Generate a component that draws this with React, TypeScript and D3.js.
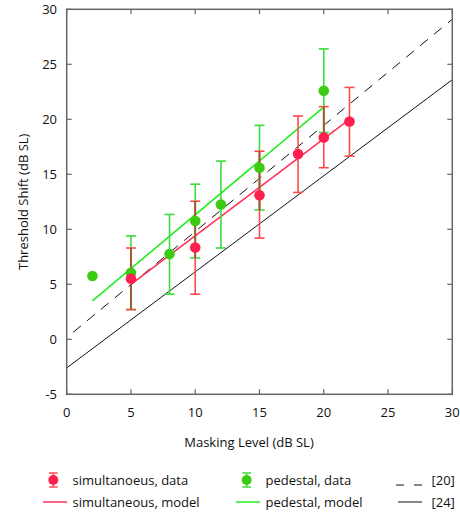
import React from "react";
import * as d3 from "d3";

const simX = [5, 10, 15, 18, 20, 22];
const simY = [5.5, 8.35, 13.1, 16.85, 18.35, 19.8];
const simHi = [8.3, 12.55, 17.1, 20.3, 21.15, 22.9];
const simLo = [2.7, 4.1, 9.2, 13.35, 15.6, 16.65];

const pedX = [2, 5, 8, 10, 12, 15, 20];
const pedY = [5.75, 6.05, 7.75, 10.75, 12.25, 15.6, 22.6];
const pedHi = [null, 9.4, 11.35, 14.1, 16.2, 19.45, 26.4];
const pedLo = [null, 2.7, 4.1, 7.4, 8.3, 11.75, 18.8];

const simModelX = [5, 22];
const simModelY = [5.0, 20.0];
const pedModelX = [2, 20];
const pedModelY = [3.5, 21.1];
const ref20X = [0.5, 30];
const ref20Y = [0.64, 29.1];
const ref24X = [0, 30];
const ref24Y = [-2.6, 23.6];

const xTicks = [0, 5, 10, 15, 20, 25, 30];
const yTicks = [-5, 0, 5, 10, 15, 20, 25, 30];

const RED = "#ff1f4f";
const RED_BAR = "#ff4a4a";
const RED_LINE = "#ff3358";
const GREEN = "#3acb12";
const GREEN_BAR = "#3ddc3d";
const GREEN_LINE = "#22ee22";
const BROWN = "#9c5a2a";

export default function App() {
  const W = 460, H = 515;
  const x = d3.scaleLinear().domain([0, 30]).range([66.7, 452.3]);
  const y = d3.scaleLinear().domain([-5, 30]).range([394.3, 9.3]);
  const font = "'Open Sans', sans-serif";
  const line = d3.line<[number, number]>().x(d => x(d[0])).y(d => y(d[1]));
  const pts = (xs: number[], ys: number[]) => xs.map((v, i) => [v, ys[i]] as [number, number]);
  const cap = 5;
  const r = 5.3;

  const bar = (xv: number, lo: number, hi: number, color: string, key: string) => (
    <g key={key} stroke={color} strokeWidth={1.6}>
      <line x1={x(xv)} x2={x(xv)} y1={y(lo)} y2={y(hi)} />
      <line x1={x(xv) - cap} x2={x(xv) + cap} y1={y(lo)} y2={y(lo)} />
      <line x1={x(xv) - cap} x2={x(xv) + cap} y1={y(hi)} y2={y(hi)} />
    </g>
  );

  // overlaps of error bars at equal x
  const overlaps: { xv: number; lo: number; hi: number }[] = [];
  simX.forEach((sx, i) => {
    const j = pedX.indexOf(sx);
    if (j >= 0 && pedHi[j] != null) {
      const lo = Math.max(simLo[i], pedLo[j] as number);
      const hi = Math.min(simHi[i], pedHi[j] as number);
      if (hi > lo) overlaps.push({ xv: sx, lo, hi });
    }
  });

  const frameColor = "#666";
  const tickLen = 5;

  return (
    <svg width={W} height={H} style={{ position: "absolute", left: 0, top: 0 }} fontFamily={font}>
      <rect width={W} height={H} fill="white" />
      {/* reference lines */}
      <path d={line(pts(ref20X, ref20Y)) || ""} stroke="#111" strokeWidth={1} fill="none" strokeDasharray="10,8" />
      <path d={line(pts(ref24X, ref24Y)) || ""} stroke="#111" strokeWidth={1} fill="none" />
      {/* model lines */}
      <path d={line(pts(pedModelX, pedModelY)) || ""} stroke={GREEN_LINE} strokeWidth={1.6} fill="none" />
      <path d={line(pts(simModelX, simModelY)) || ""} stroke={RED_LINE} strokeWidth={1.6} fill="none" />
      {/* error bars */}
      {pedX.map((xv, i) => pedHi[i] != null ? bar(xv, pedLo[i] as number, pedHi[i] as number, GREEN_BAR, "pb" + i) : null)}
      {simX.map((xv, i) => bar(xv, simLo[i], simHi[i], RED_BAR, "sb" + i))}
      {overlaps.map((o, i) => (
        <line key={"ov" + i} x1={x(o.xv)} x2={x(o.xv)} y1={y(o.lo)} y2={y(o.hi)} stroke={BROWN} strokeWidth={1.8} />
      ))}
      {/* markers */}
      {pedX.map((xv, i) => <circle key={"pm" + i} cx={x(xv)} cy={y(pedY[i])} r={r} fill={GREEN} />)}
      {simX.map((xv, i) => <circle key={"sm" + i} cx={x(xv)} cy={y(simY[i])} r={r} fill={RED} />)}
      {/* frame */}
      <rect x={x(0)} y={y(30)} width={x(30) - x(0)} height={y(-5) - y(30)} fill="none" stroke={frameColor} strokeWidth={1.5} />
      {xTicks.map(t => (
        <g key={"xt" + t}>
          <line x1={x(t)} x2={x(t)} y1={y(-5)} y2={y(-5) - tickLen} stroke={frameColor} strokeWidth={1.2} />
          <line x1={x(t)} x2={x(t)} y1={y(30)} y2={y(30) + tickLen} stroke={frameColor} strokeWidth={1.2} />
          <text x={x(t)} y={y(-5) + 23} textAnchor="middle" fontSize={13} fill="#111">{t}</text>
        </g>
      ))}
      {yTicks.map(t => (
        <g key={"yt" + t}>
          <line x1={x(0)} x2={x(0) + tickLen} y1={y(t)} y2={y(t)} stroke={frameColor} strokeWidth={1.2} />
          <line x1={x(30)} x2={x(30) - tickLen} y1={y(t)} y2={y(t)} stroke={frameColor} strokeWidth={1.2} />
          <text x={57} y={y(t)} dy="0.35em" textAnchor="end" fontSize={13} fill="#111">{t}</text>
        </g>
      ))}
      <text x={249} y={447} textAnchor="middle" fontSize={13} fill="#111">Masking Level (dB SL)</text>
      <text transform={`translate(28,${(y(30) + y(-5)) / 2}) rotate(-90)`} textAnchor="middle" fontSize={13} fill="#111">Threshold Shift (dB SL)</text>
      {/* legend */}
      <g fontSize={13} fill="#111">
        <g stroke={RED_BAR} strokeWidth={1.5}>
          <line x1={53.3} x2={53.3} y1={473} y2={487} />
          <line x1={49} x2={57.6} y1={473} y2={473} />
          <line x1={49} x2={57.6} y1={487} y2={487} />
        </g>
        <circle cx={53.3} cy={480} r={5} fill={RED} />
        <text x={72.5} y={480} dy="0.35em">simultanoeus, data</text>
        <line x1={43} x2={67} y1={502} y2={502} stroke={RED_LINE} strokeWidth={1.5} />
        <text x={72.5} y={502} dy="0.35em">simultaneous, model</text>

        <g stroke={GREEN_BAR} strokeWidth={1.5}>
          <line x1={246.7} x2={246.7} y1={473} y2={487} />
          <line x1={242.4} x2={251} y1={473} y2={473} />
          <line x1={242.4} x2={251} y1={487} y2={487} />
        </g>
        <circle cx={246.7} cy={480} r={5} fill={GREEN} />
        <text x={265.5} y={480} dy="0.35em">pedestal, data</text>
        <line x1={236} x2={260} y1={502} y2={502} stroke={GREEN_LINE} strokeWidth={1.5} />
        <text x={265.5} y={502} dy="0.35em">pedestal, model</text>

        <line x1={396} x2={422} y1={485} y2={485} stroke="#111" strokeWidth={1} strokeDasharray="8,10" />
        <text x={431.5} y={480} dy="0.35em">[20]</text>
        <line x1={398} x2={422} y1={502} y2={502} stroke="#111" strokeWidth={1} />
        <text x={431.5} y={502} dy="0.35em">[24]</text>
      </g>
    </svg>
  );
}
